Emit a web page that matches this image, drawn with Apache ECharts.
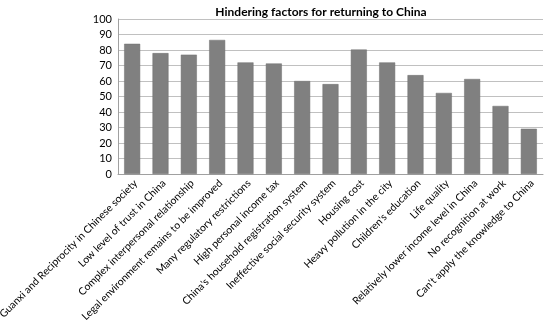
<!DOCTYPE html>
<html><head><meta charset="utf-8">
<script src="https://cdn.jsdelivr.net/npm/echarts@6/dist/echarts.min.js"></script>
<style>html,body{margin:0;padding:0;background:#fff}#c{width:544px;height:322px}</style>
</head><body><div id="c"></div>
<script>
const categories = [
  "Guanxi and Reciprocity in Chinese society",
  "Low level of trust in China",
  "Complex interpersonal relationship",
  "Legal environment remains to be improved",
  "Many regulatory restrictions",
  "High personal income tax",
  "China's household registration system",
  "Ineffective social security system",
  "Housing cost",
  "Heavy pollution in the city",
  "Children's education",
  "Life quality",
  "Relatively lower income level in China",
  "No recognition at work",
  "Can't apply the knowledge to China"
];
const values = [84, 78, 77, 86.5, 72, 71.3, 60, 58, 80.3, 72, 63.8, 52.3, 61.3, 43.9, 29.2];
const titleText = "Hindering factors for returning to China";
const font = "Lato, 'Open Sans', sans-serif";

const chart = echarts.init(document.getElementById('c'), null, {renderer: 'canvas'});
chart.setOption({
  animation: false,
  title: {
    text: titleText, left: 316, top: 1, textAlign: 'center',
    textStyle: {fontFamily: font, fontSize: 12, fontWeight: 'bold', color: '#000'}
  },
  grid: {left: 118, right: 1, top: 19, bottom: 148, containLabel: false, outerBoundsMode: 'none'},
  xAxis: {
    type: 'category', data: categories,
    axisLine: {lineStyle: {color: '#a0a0a0', width: 1}},
    axisTick: {show: false},
    axisLabel: {rotate: 45, interval: 0, margin: 4, verticalAlign: 'top', fontFamily: font, fontSize: 10.4, color: '#000'}
  },
  yAxis: {
    type: 'value', min: 0, max: 100, interval: 10,
    axisLine: {show: true, lineStyle: {color: '#a0a0a0'}},
    axisTick: {show: false},
    splitLine: {lineStyle: {color: '#c0c0c0', width: 1}},
    axisLabel: {fontFamily: font, fontSize: 11, color: '#000', margin: 6}
  },
  series: [{
    type: 'bar', data: values, barWidth: 16,
    itemStyle: {color: '#808080', borderColor: '#6e6e6e', borderWidth: 0.5}
  }]
});
</script></body></html>
